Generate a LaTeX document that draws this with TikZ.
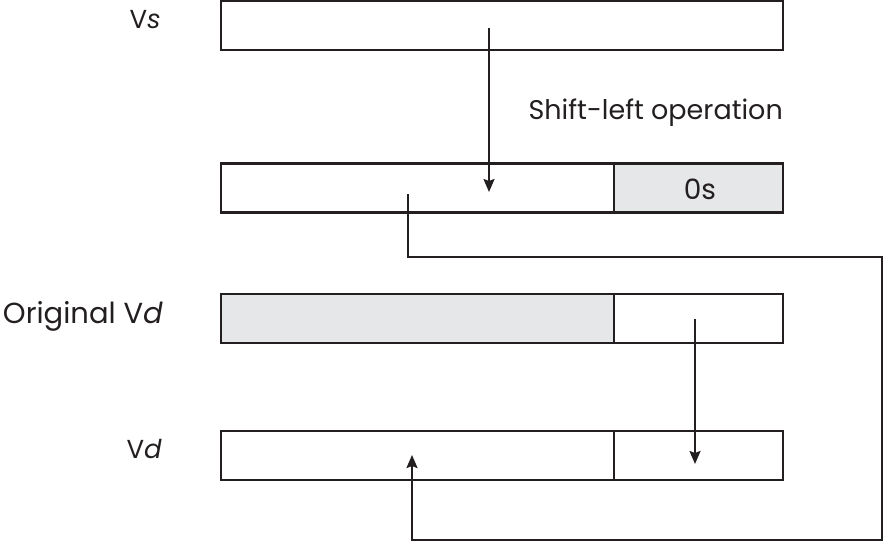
\documentclass[tikz,border=0pt]{standalone}
\usepackage{fontspec}
\setmainfont{Poppins}
\usetikzlibrary{arrows.meta}
\definecolor{boxgray}{HTML}{E6E7E8}
\definecolor{ink}{HTML}{231F20}
\begin{document}
\begin{tikzpicture}[x=1pt,y=-1pt,
  reg/.style={draw=ink,line width=2.2pt,rectangle,inner sep=0pt,minimum height=49pt},
  lbl/.style={font=\fontsize{27}{32}\selectfont,text=ink,inner sep=0pt},
  slbl/.style={font=\fontsize{26}{31}\selectfont,text=ink,inner sep=0pt},
  conn/.style={draw=ink,line width=2pt},
  tip/.style={-{Stealth[length=13pt,width=11pt,inset=2pt]}}
]
\useasboundingbox (0,0) rectangle (883,541);
% registers
\node[reg,minimum width=562pt] (vs) at (502,25.5) {};
\node[reg,minimum width=393pt] (sl) at (417.5,188) {};
\node[reg,minimum width=169pt,fill=boxgray] (zs) at (698.5,188) {};
\node[reg,minimum width=393pt,fill=boxgray] (ovl) at (417.5,318.5) {};
\node[reg,minimum width=169pt] (ovr) at (698.5,318.5) {};
\node[reg,minimum width=393pt] (vdl) at (417.5,455.5) {};
\node[reg,minimum width=169pt] (vdr) at (698.5,455.5) {};
% labels
\node[slbl,anchor=base east] (tvs) at (161,28) {V\textit{s}};
\node[lbl,anchor=base east] (tsh) at (783,119) {Shift-left operation};
\node[lbl,font=\fontsize{28}{32}\selectfont,anchor=base] (t0s) at (700,199) {0s};
\node[lbl,font=\fontsize{29}{34}\selectfont,anchor=base east] (tovd) at (163,323) {Original V\textit{d}};
\node[slbl,anchor=base east] (tvd) at (162,458) {V\textit{d}};
% connector points
\coordinate (a1s) at (489,28);
\coordinate (a1e) at (489,192);
\coordinate (a2s) at (408,194);
\coordinate (a2e) at (412,455);
\coordinate (a3s) at (695,319);
\coordinate (a3e) at (695,464);
% connectors
\draw[conn,tip] (a1s) -- (a1e);
\draw[conn,tip] (a2s) |- (881.5,256.5) |- (412,539.5) -- (a2e);
\draw[conn,tip] (a3s) -- (a3e);
\end{tikzpicture}
\end{document}
